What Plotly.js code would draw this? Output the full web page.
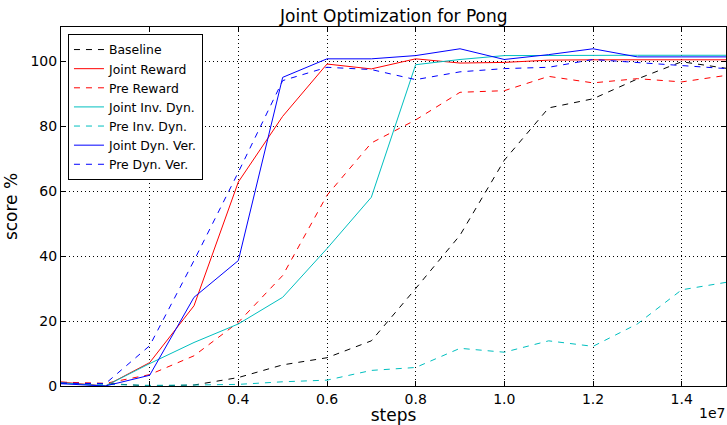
<!DOCTYPE html>
<html>
<head>
<meta charset="utf-8">
<script src="https://cdn.plot.ly/plotly-3.0.1.min.js"></script>
<style>html,body{margin:0;padding:0;background:#fff;}#chart{width:727px;height:425px;}</style>
</head>
<body>
<div id="chart"></div>
<script>
// steps (units of 1e7 on the axis label)
const steps = [0, 1e6, 2e6, 3e6, 4e6, 5e6, 6e6, 7e6, 8e6, 9e6, 10e6, 11e6, 12e6, 13e6, 14e6, 15e6];

const baseline      = [0.8, 0.8, 0.0, 0.3, 2.6, 6.5, 8.7, 13.9, 30.0, 46.4, 69.5, 85.6, 88.4, 94.5, 99.8, 97.8];
const jointReward   = [1.2, 0.0, 7.2, 24.7, 62.8, 83.0, 99.1, 97.6, 100.7, 99.4, 99.6, 100.3, 100.4, 100.4, 100.4, 100.4];
const preReward     = [1.2, 0.8, 3.5, 9.3, 19.6, 34.0, 58.7, 74.8, 81.9, 90.4, 90.9, 95.3, 93.3, 94.6, 93.6, 95.6];
const jointInvDyn   = [1.0, 0.0, 6.9, 13.4, 19.1, 27.3, 42.3, 58.1, 98.9, 100.5, 101.7, 101.8, 101.8, 101.8, 101.8, 101.8];
const preInvDyn     = [0.8, 0.5, 0.2, 0.3, 0.5, 1.3, 1.8, 4.8, 5.7, 11.6, 10.4, 13.9, 12.2, 19.1, 29.6, 31.9];
const jointDynVer   = [0.7, 0.0, 3.3, 27.3, 38.6, 95.0, 100.7, 100.7, 101.7, 103.8, 100.5, 102.0, 103.8, 101.3, 101.3, 101.3];
const preDynVer     = [0.9, 0.7, 12.4, 38.6, 65.8, 94.0, 98.1, 97.4, 94.3, 96.7, 97.7, 98.1, 100.5, 99.6, 98.6, 97.7];

const seriesNames = ["Baseline", "Joint Reward", "Pre Reward", "Joint Inv. Dyn.", "Pre Inv. Dyn.", "Joint Dyn. Ver.", "Pre Dyn. Ver."];
const seriesValues = [baseline, jointReward, preReward, jointInvDyn, preInvDyn, jointDynVer, preDynVer];

const xTickVals = [2e6, 4e6, 6e6, 8e6, 10e6, 12e6, 14e6];
const xTickText = ["0.2", "0.4", "0.6", "0.8", "1.0", "1.2", "1.4"];
const yTickVals = [0, 20, 40, 60, 80, 100];
const yTickText = ["0", "20", "40", "60", "80", "100"];

const colors = ["#000000", "#ff0000", "#ff0000", "#00bfbf", "#00bfbf", "#0000ff", "#0000ff"];
const dashes = ["6px,6px", "solid", "6px,6px", "solid", "6px,6px", "solid", "6px,6px"];

const traces = seriesNames.map((n, i) => ({
  x: steps, y: seriesValues[i], name: n, type: "scatter", mode: "lines",
  line: {color: colors[i], width: 1, dash: dashes[i]}
}));

const font = "DejaVu Sans, sans-serif";
const axisCommon = {
  showline: true, linecolor: "#000", linewidth: 1, mirror: "allticks",
  ticks: "inside", ticklen: 5, tickwidth: 1, tickcolor: "#000",
  showgrid: true, gridcolor: "#000", gridwidth: 1, griddash: "1px,3px",
  zeroline: false, tickfont: {family: font, size: 14, color: "#000"}
};

const layout = {
  width: 727, height: 425,
  margin: {l: 61, r: 1, t: 27, b: 39},
  paper_bgcolor: "#fff", plot_bgcolor: "#fff",
  font: {family: font, color: "#000"},
  title: {text: "Joint Optimization for Pong", font: {family: font, size: 17, color: "#000"},
          x: 0.5417, xanchor: "center", yref: "container", y: 0.962, yanchor: "middle"},
  xaxis: Object.assign({}, axisCommon, {
    range: [0, 1.5e7], tickmode: "array", tickvals: xTickVals, ticktext: xTickText,
    title: {text: "steps", font: {family: font, size: 17, color: "#000"}, standoff: 6}
  }),
  yaxis: Object.assign({}, axisCommon, {
    range: [0, 110.5], tickmode: "array", tickvals: yTickVals, ticktext: yTickText,
    title: {text: "score %", font: {family: font, size: 17, color: "#000"}, standoff: 8}
  }),
  legend: {
    x: 0.0105, y: 0.9805, xanchor: "left", yanchor: "top",
    bgcolor: "#fff", bordercolor: "#000", borderwidth: 1,
    font: {family: font, size: 12.4, color: "#000"}, tracegroupgap: 0
  },
  annotations: [{
    text: "1e7", xref: "paper", yref: "paper", x: 1.0015, y: -0.075,
    xanchor: "right", yanchor: "middle", showarrow: false,
    font: {family: font, size: 14, color: "#000"}
  }],
  showlegend: true
};

Plotly.newPlot("chart", traces, layout, {displayModeBar: false, staticPlot: true});
</script>
</body>
</html>
